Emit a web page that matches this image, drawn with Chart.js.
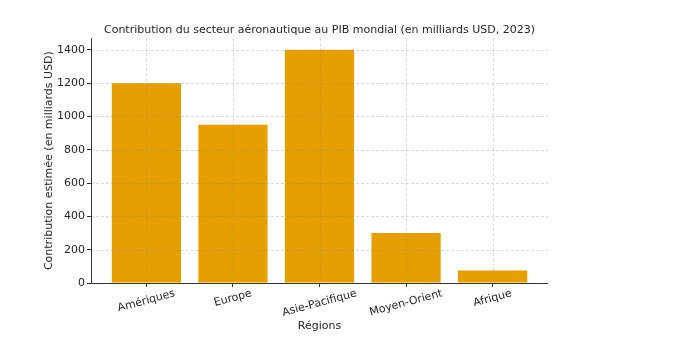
<!DOCTYPE html>
<html lang="fr">
<head>
<meta charset="utf-8">
<script src="https://cdn.jsdelivr.net/npm/chart.js@4.4.1/dist/chart.umd.min.js"></script>
<style>
  html, body { margin: 0; padding: 0; background: #ffffff; }
  #wrap { width: 675px; height: 337px; }
</style>
</head>
<body>
<div id="wrap"><canvas id="chart" width="675" height="337"></canvas></div>
<script>
// Contribution du secteur aéronautique au PIB, par région (milliards USD, 2023)
const regions = ['Amériques', 'Europe', 'Asie-Pacifique', 'Moyen-Orient', 'Afrique'];
const contributions = [1200, 950, 1400, 300, 75];
const yTicks = [0, 200, 400, 600, 800, 1000, 1200, 1400];

const FONT = 'DejaVu Sans';
const TEXT = '#262626';
const GRID = 'rgba(128,128,128,0.32)';
const AXIS = '#333333';

// Dashed grid and axis lines, drawn above the bars
const overlayGrid = {
  id: 'overlayGrid',
  afterDatasetsDraw(chart) {
    const { ctx, chartArea: a, scales: { x, y } } = chart;
    ctx.save();
    ctx.strokeStyle = GRID;
    ctx.lineWidth = 0.9;
    ctx.setLineDash([3, 2]);
    yTicks.forEach(v => {
      const py = Math.round(y.getPixelForValue(v)) + 0.5;
      ctx.beginPath();
      ctx.moveTo(a.left, py);
      ctx.lineTo(a.right, py);
      ctx.stroke();
    });
    regions.forEach((_, i) => {
      const px = Math.round(x.getPixelForValue(i)) + 0.5;
      ctx.beginPath();
      ctx.moveTo(px, a.top);
      ctx.lineTo(px, a.bottom);
      ctx.stroke();
    });
    // left and bottom spines
    ctx.setLineDash([]);
    ctx.strokeStyle = AXIS;
    ctx.lineWidth = 1;
    const bx = Math.round(a.left) + 0.5;
    const by = Math.round(a.bottom) + 0.5;
    ctx.beginPath();
    ctx.moveTo(bx, a.top);
    ctx.lineTo(bx, by);
    ctx.lineTo(a.right, by);
    ctx.stroke();
    ctx.restore();
  }
};

// Category labels: rotated 15°, centred under each bar
const rotatedLabels = {
  id: 'rotatedLabels',
  afterDraw(chart) {
    const xs = chart.scales.x;
    const ctx = chart.ctx;
    const ang = 15 * Math.PI / 180;
    ctx.save();
    ctx.font = '11px "' + FONT + '"';
    ctx.fillStyle = TEXT;
    ctx.textAlign = 'center';
    ctx.textBaseline = 'middle';
    const top = chart.chartArea.bottom + 5;
    regions.forEach((name, i) => {
      const w = ctx.measureText(name).width;
      const h = 11;
      const bh = w * Math.sin(ang) + h * Math.cos(ang);
      const cx = xs.getPixelForValue(i);
      const cy = top + bh / 2;
      ctx.save();
      ctx.translate(cx, cy);
      ctx.rotate(-ang);
      ctx.fillText(name, 0, 0);
      ctx.restore();
    });
    ctx.restore();
  }
};

const tickMarks = {
  display: true,
  drawOnChartArea: false,
  drawTicks: true,
  tickLength: 4,
  tickColor: AXIS,
  tickWidth: 1,
  tickBorderDash: []
};

new Chart(document.getElementById('chart'), {
  type: 'bar',
  data: {
    datasets: [{
      data: contributions.map((v, i) => ({ x: i, y: v })),
      backgroundColor: '#E69F00',
      borderWidth: 0,
      barPercentage: 1.0,
      categoryPercentage: 0.8
    }]
  },
  options: {
    responsive: false,
    animation: false,
    layout: { padding: { left: 39, right: 127, top: 0, bottom: 0 } },
    plugins: {
      legend: { display: false },
      tooltip: { enabled: false },
      title: {
        display: true,
        fullSize: false,
        text: 'Contribution du secteur aéronautique au PIB mondial (en milliards USD, 2023)',
        color: TEXT,
        font: { family: FONT, size: 11, weight: 'normal' },
        padding: { top: 24, bottom: 1 }
      }
    },
    scales: {
      x: {
        type: 'linear',
        offset: false,
        min: -0.64,
        max: 4.64,
        afterBuildTicks(scale) {
          scale.ticks = regions.map((_, i) => ({ value: i }));
        },
        afterFit(scale) { scale.height = 54; },
        ticks: { display: false },
        grid: Object.assign({ offset: false }, tickMarks),
        border: { display: false },
        title: {
          display: true,
          text: 'Régions',
          color: TEXT,
          font: { family: FONT, size: 11 },
          padding: { top: 4, bottom: 4 }
        }
      },
      y: {
        min: 0,
        max: 1470,
        afterBuildTicks(scale) {
          scale.ticks = yTicks.map(v => ({ value: v }));
        },
        afterFit(scale) { scale.width = 52; },
        ticks: {
          color: TEXT,
          font: { family: FONT, size: 11 },
          padding: 2,
          callback: v => String(v)
        },
        grid: tickMarks,
        border: { display: false },
        title: {
          display: true,
          text: 'Contribution estimée (en milliards USD)',
          color: TEXT,
          font: { family: FONT, size: 11 },
          padding: { top: 4, bottom: 4 }
        }
      }
    }
  },
  plugins: [overlayGrid, rotatedLabels]
});
</script>
</body>
</html>
